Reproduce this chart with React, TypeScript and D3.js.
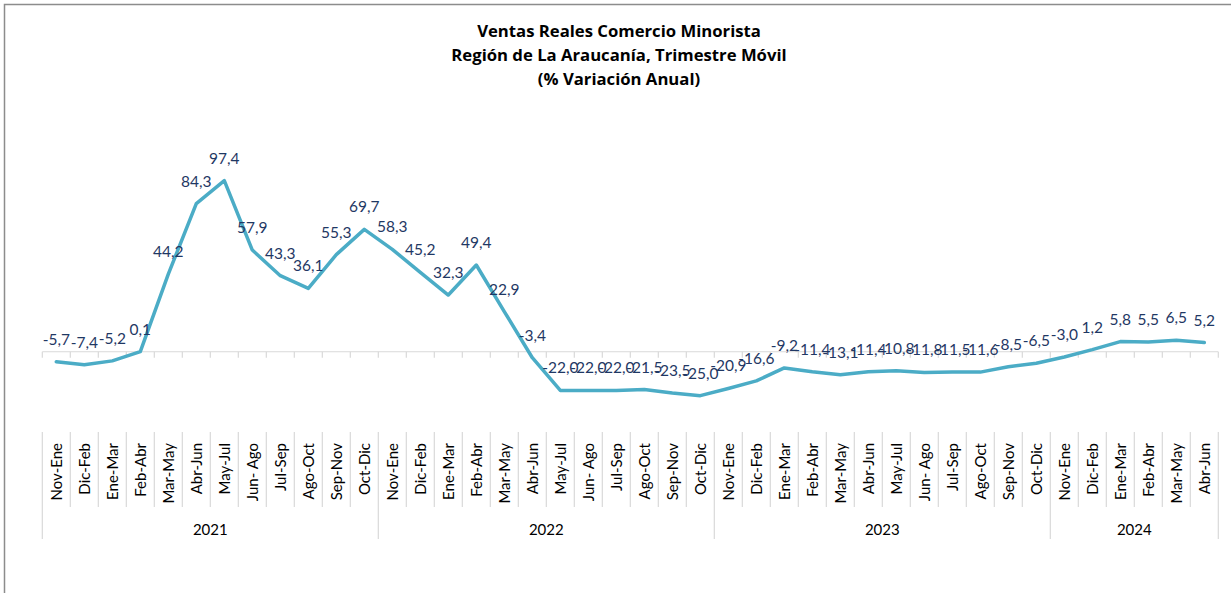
import { useRef, useEffect } from 'react';
import * as d3 from 'd3';

const years = ['2021', '2022', '2023', '2024'];
const yearCounts = [12, 12, 12, 6];

const periods = [
  'Nov-Ene', 'Dic-Feb', 'Ene-Mar', 'Feb-Abr', 'Mar-May', 'Abr-Jun', 'May-Jul', 'Jun- Ago', 'Jul-Sep', 'Ago-Oct', 'Sep-Nov', 'Oct-Dic',
  'Nov-Ene', 'Dic-Feb', 'Ene-Mar', 'Feb-Abr', 'Mar-May', 'Abr-Jun', 'May-Jul', 'Jun- Ago', 'Jul-Sep', 'Ago-Oct', 'Sep-Nov', 'Oct-Dic',
  'Nov-Ene', 'Dic-Feb', 'Ene-Mar', 'Feb-Abr', 'Mar-May', 'Abr-Jun', 'May-Jul', 'Jun- Ago', 'Jul-Sep', 'Ago-Oct', 'Sep-Nov', 'Oct-Dic',
  'Nov-Ene', 'Dic-Feb', 'Ene-Mar', 'Feb-Abr', 'Mar-May', 'Abr-Jun',
];

const values = [
  -5.7, -7.4, -5.2, 0.1, 44.2, 84.3, 97.4, 57.9, 43.3, 36.1, 55.3, 69.7,
  58.3, 45.2, 32.3, 49.4, 22.9, -3.4, -22.0, -22.0, -22.0, -21.5, -23.5, -25.0,
  -20.9, -16.6, -9.2, -11.4, -13.1, -11.4, -10.8, -11.8, -11.5, -11.6, -8.5, -6.5,
  -3.0, 1.2, 5.8, 5.5, 6.5, 5.2,
];

const titleLines = [
  'Ventas Reales Comercio Minorista',
  'Región de La Araucanía, Trimestre Móvil',
  '(% Variación Anual)',
];

const FONT = 'Lato, "Open Sans", sans-serif';
const TITLE_FONT = '"Open Sans", Lato, sans-serif';

function App() {
  const ref = useRef<SVGSVGElement>(null);

  useEffect(() => {
    const svg = d3.select(ref.current);
    svg.selectAll('*').remove();

    const width = 1231;
    const height = 593;

    // outer frame (only top/left edges visible)
    svg.append('rect')
      .attr('x', 4.5).attr('y', 4.5)
      .attr('width', width + 20).attr('height', height + 20)
      .attr('fill', '#fff')
      .attr('stroke', '#8c8c8c')
      .attr('stroke-width', 1.5);

    const idx = values.map((_, i) => i);
    const x = d3.scaleBand<number>()
      .domain(idx)
      .range([42.3, 1218.3])
      .padding(0);
    const y = d3.scaleLinear()
      .domain([-40, 120])
      .range([422, 141]);

    const cx = (i: number) => (x(i) as number) + x.bandwidth() / 2;
    const grid = '#d9d9d9';

    // title
    svg.append('g')
      .selectAll('text')
      .data(titleLines)
      .enter().append('text')
      .attr('x', 619)
      .attr('y', (d, i) => 36.5 + i * 24)
      .attr('text-anchor', 'middle')
      .attr('font-family', TITLE_FONT)
      .attr('font-weight', 'bold')
      .attr('font-size', 16.7)
      .attr('fill', '#000')
      .text(d => d);

    // zero line with ticks
    const y0 = y(0);
    svg.append('line')
      .attr('x1', x(0) as number).attr('x2', x.range()[1])
      .attr('y1', y0).attr('y2', y0)
      .attr('stroke', grid).attr('stroke-width', 1.2);

    const bounds = d3.range(values.length + 1).map(i => x.range()[0] + i * x.bandwidth());
    svg.append('g')
      .selectAll('line')
      .data(bounds)
      .enter().append('line')
      .attr('x1', d => d).attr('x2', d => d)
      .attr('y1', y0).attr('y2', y0 + 6)
      .attr('stroke', grid).attr('stroke-width', 1.2);

    // category axis separators
    const groupStarts = [0];
    yearCounts.forEach((c, i) => groupStarts.push(groupStarts[i] + c));
    svg.append('g')
      .selectAll('line')
      .data(d3.range(values.length + 1))
      .enter().append('line')
      .attr('x1', i => bounds[i]).attr('x2', i => bounds[i])
      .attr('y1', 432)
      .attr('y2', i => (groupStarts.includes(i) ? 539 : 507))
      .attr('stroke', grid).attr('stroke-width', 1.2);

    // category labels
    svg.append('g')
      .selectAll('text')
      .data(periods)
      .enter().append('text')
      .attr('transform', (d, i) => `translate(${cx(i)},443) rotate(-90)`)
      .attr('text-anchor', 'end')
      .attr('dy', '0.35em')
      .attr('font-family', FONT)
      .attr('font-size', 15)
      .attr('fill', '#000')
      .text(d => d);

    // year labels
    svg.append('g')
      .selectAll('text')
      .data(years)
      .enter().append('text')
      .attr('x', (d, i) => (bounds[groupStarts[i]] + bounds[groupStarts[i + 1]]) / 2)
      .attr('y', 530)
      .attr('dy', '0.35em')
      .attr('text-anchor', 'middle')
      .attr('font-family', FONT)
      .attr('font-size', 15)
      .attr('fill', '#000')
      .text(d => d);

    // series line
    const line = d3.line<number>()
      .x((d, i) => cx(i))
      .y(d => y(d));
    svg.append('path')
      .datum(values)
      .attr('d', line)
      .attr('fill', 'none')
      .attr('stroke', '#4bacc6')
      .attr('stroke-width', 3.5)
      .attr('stroke-linejoin', 'round')
      .attr('stroke-linecap', 'round');

    // data labels
    svg.append('g')
      .selectAll('text')
      .data(values)
      .enter().append('text')
      .attr('x', (d, i) => cx(i))
      .attr('y', d => y(d) - 17)
      .attr('text-anchor', 'middle')
      .attr('font-family', FONT)
      .attr('font-size', 15.5)
      .attr('fill', '#1f3864')
      .text(d => d3.format('.1f')(d).replace('.', ',').replace('−', '-'));
  }, []);

  return (
    <svg
      ref={ref}
      width={1231}
      height={593}
      style={{ position: 'absolute', left: 0, top: 0, display: 'block' }}
    />
  );
}

export default App;
